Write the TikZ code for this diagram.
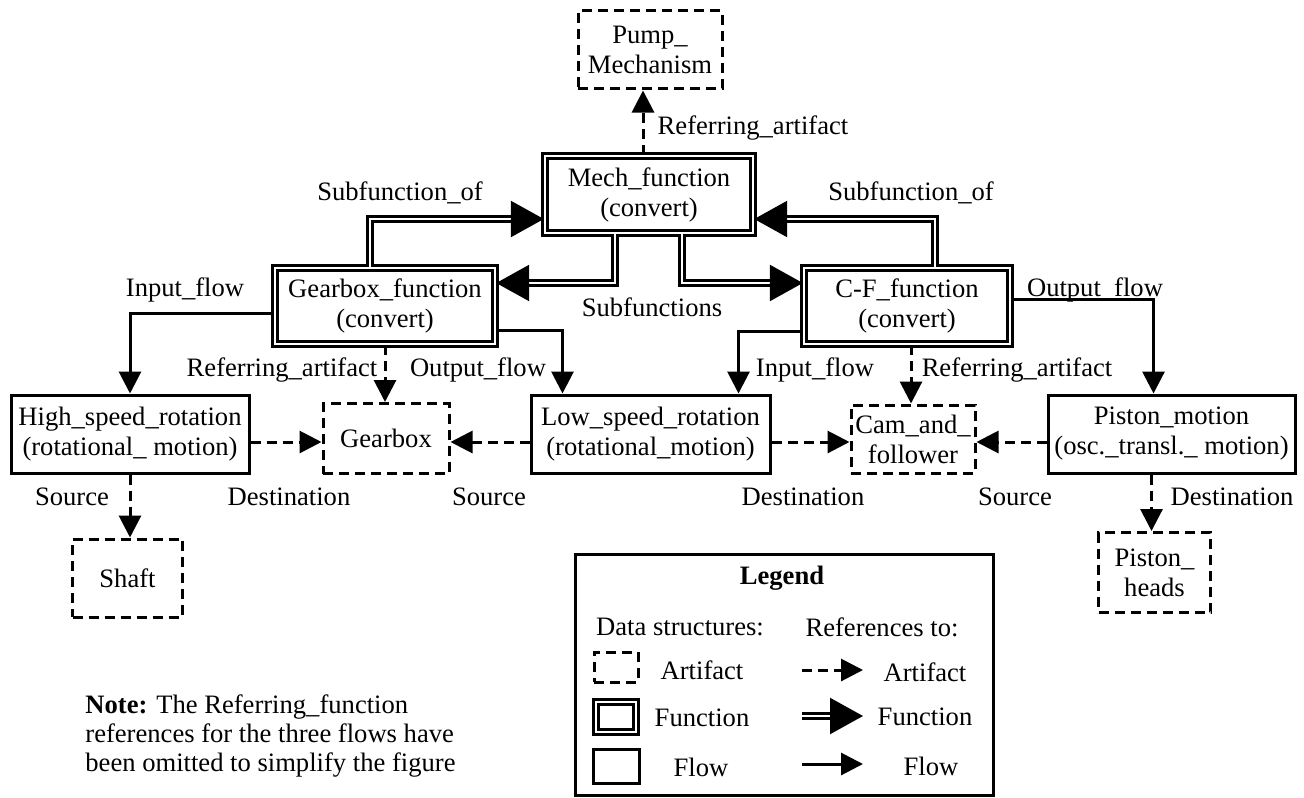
\documentclass[tikz,border=0pt]{standalone}
\usepackage{fontspec}
\setmainfont{Liberation Serif}
\usetikzlibrary{positioning, arrows.meta}

\begin{document}
\begin{tikzpicture}[
    x=0.5pt, y=-0.5pt,
    every node/.style={font=\fontsize{13.3}{15}\selectfont},
    artifact/.style={draw, line width=1.5pt, dash pattern=on 5pt off 3pt, align=center, inner sep=1pt},
    func/.style={draw, line width=1.2pt, double, double distance=1.4pt, align=center, inner sep=1pt},
    flowbox/.style={draw, line width=1.5pt, align=center, inner sep=1pt},
    aref/.style={line width=1.5pt, dash pattern=on 5pt off 3pt, -{Triangle[length=11pt, width=11pt]}},
    fref/.style={line width=1.2pt, double, double distance=1.4pt, -{Triangle[length=16.5pt, width=18pt]}},
    flw/.style={line width=1.5pt, -{Triangle[length=11pt, width=11pt]}},
    lbl/.style={inner sep=1pt}
]
\useasboundingbox (0,0) rectangle (1304,797);

% Functions
\node[func, minimum width=104pt, minimum height=38.5pt] (mech) at (649,194.5) {Mech\_function\\(convert)};
\node[func, minimum width=110pt, minimum height=38pt] (gbf) at (385,306) {Gearbox\_function\\(convert)};
\node[func, minimum width=103pt, minimum height=38pt] (cff) at (907,306) {C-F\_function\\(convert)};

% Flows
\node[flowbox, minimum width=119pt, minimum height=39pt] (hs) at (130,434) {High\_speed\_rotation\\(rotational\_ motion)};
\node[flowbox, minimum width=119.5pt, minimum height=39pt] (ls) at (650.5,434) {Low\_speed\_rotation\\(rotational\_motion)};
\node[flowbox, minimum width=123.5pt, minimum height=39pt] (pm) at (1171.5,434) {Piston\_motion\\(osc.\_transl.\_ motion)};

% Artifacts
\node[artifact, minimum width=72pt, minimum height=39pt] (pump) at (650,50) {Pump\_\\Mechanism};
\node[artifact, minimum width=63pt, minimum height=35pt] (gb) at (386,438.5) {Gearbox};
\node[artifact, minimum width=62pt, minimum height=34pt] (cam) at (913,439) {Cam\_and\_\\follower};
\node[artifact, minimum width=55pt, minimum height=39pt] (shaft) at (127.5,578) {Shaft};
\node[artifact, minimum width=56pt, minimum height=40pt] (ph) at (1154.5,572.5) {Piston\_\\heads};

% Subfunction references
\draw[aref] ([xshift=-3pt]mech.north) -- ([xshift=-3pt]mech.north |- pump.south);
\draw[fref] ([xshift=-7.5pt]gbf.north) |- ([yshift=-12.25pt]mech.west);
\draw[fref] ([xshift=14pt]cff.north) |- ([yshift=-12.25pt]mech.east);
\draw[fref] ([xshift=-17pt]mech.south) |- ([yshift=11.5pt]gbf.east);
\draw[fref] ([xshift=16.5pt]mech.south) |- ([yshift=11.5pt]cff.west);

% Flow references
\draw[flw] ([yshift=-3.5pt]gbf.west) -| (hs.north);
\draw[flw] ([yshift=-12pt]gbf.east) -| ([xshift=-44pt]ls.north);
\draw[flw] ([yshift=-12.5pt]cff.west) -| ([xshift=44pt]ls.north);
\draw[flw] ([yshift=3.5pt]cff.east) -| ([xshift=-9pt]pm.north);

% Artifact references
\draw[aref] (gbf.south) -- (gbf.south |- gb.north);
\draw[aref] ([xshift=2pt]cff.south) -- ([xshift=2pt]cff.south |- cam.north);
\draw[aref] ([yshift=-4pt]hs.east) -- ([yshift=-4pt]hs.east -| gb.west);
\draw[aref] ([yshift=-4pt]ls.west) -- ([yshift=-4pt]ls.west -| gb.east);
\draw[aref] ([yshift=-4pt]ls.east) -- ([yshift=-4pt]ls.east -| cam.west);
\draw[aref] ([yshift=-4pt]pm.west) -- ([yshift=-4pt]pm.west -| cam.east);
\draw[aref] (hs.south) -- (hs.south |- shaft.north);
\draw[aref] ([xshift=-10pt]pm.south) -- ([xshift=-10pt]pm.south |- ph.north);

% Labels
\node[lbl] (l1) at (753,128) {Referring\_artifact};
\node[lbl] (l2) at (400,193) {Subfunction\_of};
\node[lbl] (l3) at (911,193) {Subfunction\_of};
\node[lbl] (l4) at (652,307) {Subfunctions};
\node[lbl] (l5) at (185,290) {Input\_flow};
\node[lbl] (l6) at (1095,290) {Output\_flow};
\node[lbl] (l7) at (282,370) {Referring\_artifact};
\node[lbl] (l8) at (478,370) {Output\_flow};
\node[lbl] (l9) at (815,370) {Input\_flow};
\node[lbl] (l10) at (1017,370) {Referring\_artifact};
\node[lbl] (l11) at (72,497) {Source};
\node[lbl] (l12) at (289,497) {Destination};
\node[lbl] (l13) at (489,497) {Source};
\node[lbl] (l14) at (803,497) {Destination};
\node[lbl] (l15) at (1015,497) {Source};
\node[lbl] (l16) at (1232,497) {Destination};

% Legend
\node[draw, line width=1.5pt, minimum width=209pt, minimum height=120.5pt] (legend) at (784,674.5) {};
\node[lbl] (lgtitle) at (782,578) {\bfseries Legend};
\node[lbl] (lgds) at (680,627) {Data structures:};
\node[lbl] (lgrt) at (882,627) {References to:};
\node[artifact, minimum width=22pt, minimum height=15pt] (lgart) at (616,667) {};
\node[func, minimum width=20pt, minimum height=15pt] (lgfun) at (616,717) {};
\node[flowbox, minimum width=23pt, minimum height=17pt] (lgflo) at (616,766) {};
\node[lbl] (lgarttxt) at (702,670) {Artifact};
\node[lbl] (lgfuntxt) at (702,718) {Function};
\node[lbl] (lgflotxt) at (701,767) {Flow};
\coordinate (ra1) at (802,670);
\coordinate (ra2) at (863,670);
\coordinate (rf1) at (802,716);
\coordinate (rf2) at (863,716);
\coordinate (rl1) at (802,764);
\coordinate (rl2) at (863,764);
\draw[aref] (ra1) -- (ra2);
\draw[fref] (rf1) -- (rf2);
\draw[flw] (rl1) -- (rl2);
\node[lbl] (rarttxt) at (925,672) {Artifact};
\node[lbl] (rfuntxt) at (925,717) {Function};
\node[lbl] (rflotxt) at (931,766) {Flow};

% Note
\node[lbl, anchor=west, align=left, font=\fontsize{13.3}{14.5}\selectfont] (note) at (83,736) {\textbf{Note:} The Referring\_function\\references for the three flows have\\been omitted to simplify the figure};

\end{tikzpicture}
\end{document}
